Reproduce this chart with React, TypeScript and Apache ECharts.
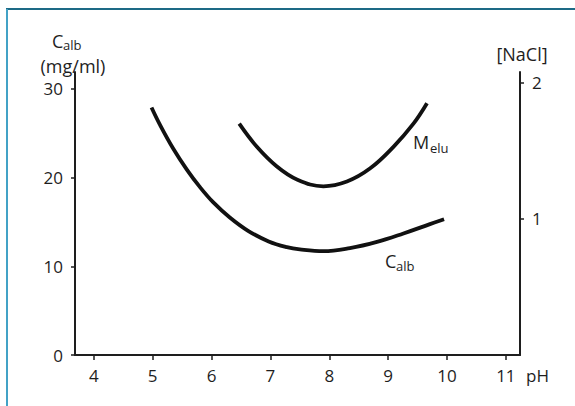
import React, { useEffect, useRef } from "react";
import * as echarts from "echarts";

const phTicks = [4, 5, 6, 7, 8, 9, 10, 11];
const calbTicks = [0, 10, 20, 30];
const naclTicks = [1, 2];

const calbPH = [4.98, 5.12, 5.35, 5.58, 5.8, 6.03, 6.31, 6.62, 6.97, 7.28, 7.5, 7.9, 8.35, 8.81, 9.26, 9.71, 9.95];
const calbValues = [27.9, 26.0, 23.25, 20.9, 18.95, 17.2, 15.5, 14.0, 12.8, 12.15, 11.9, 11.7, 12.05, 12.75, 13.7, 14.75, 15.3];

const meluPH = [6.47, 6.77, 7.11, 7.45, 7.9, 8.3, 8.69, 9.09, 9.43, 9.66];
const meluValues = [1.7, 1.53, 1.385, 1.29, 1.24, 1.275, 1.37, 1.53, 1.7, 1.85];

const FONT = "'Open Sans', 'Noto Sans', sans-serif";
const INK = "#1e1e1e";

function txt(text: string, x: number, y: number, size: number, align = "left") {
  return {
    type: "text",
    x,
    y,
    silent: true,
    style: {
      text,
      fontSize: size,
      fontFamily: FONT,
      fill: INK,
      align,
      verticalAlign: "middle",
    },
  };
}

export default function App() {
  const ref = useRef<HTMLDivElement>(null);
  useEffect(() => {
    if (!ref.current) return;
    const chart = echarts.init(ref.current, null, { renderer: "svg" });
    const axisLine = { show: true, lineStyle: { color: INK, width: 2 } };
    const labelStyle = { color: INK, fontSize: 17, fontFamily: FONT };
    chart.setOption({
      animation: false,
      backgroundColor: "#ffffff",
      grid: { left: 75, right: 55, top: 72, bottom: 51, containLabel: false },
      xAxis: {
        type: "value",
        min: 3.68,
        max: 11.24,
        axisLine: { ...axisLine, onZero: false },
        axisTick: { show: true, inside: false, length: 5, lineStyle: { color: INK, width: 1.5 }, customValues: phTicks },
        axisLabel: { ...labelStyle, margin: 12, customValues: phTicks },
        splitLine: { show: false },
        name: "pH",
        nameLocation: "end",
        nameGap: 6,
        nameTextStyle: { ...labelStyle, verticalAlign: "top", padding: [12, 0, 0, 0] },
      },
      yAxis: [
        {
          type: "value",
          position: "left",
          min: 0,
          max: 31.9,
          axisLine,
          axisTick: { show: true, inside: false, length: 4, lineStyle: { color: INK, width: 1.5 }, customValues: calbTicks },
          axisLabel: { ...labelStyle, margin: 12, customValues: calbTicks },
          splitLine: { show: false },
        },
        {
          type: "value",
          position: "right",
          min: 0,
          max: 2.08,
          axisLine,
          axisTick: { show: true, inside: false, length: 4, lineStyle: { color: INK, width: 1.5 }, customValues: naclTicks },
          axisLabel: { ...labelStyle, margin: 12, customValues: naclTicks },
          splitLine: { show: false },
        },
      ],
      series: [
        {
          name: "Calb",
          type: "line",
          yAxisIndex: 0,
          smooth: 0.4,
          showSymbol: false,
          lineStyle: { color: "#111", width: 3.8, cap: "butt" },
          data: calbPH.map((p, i) => [p, calbValues[i]]),
        },
        {
          name: "Melu",
          type: "line",
          yAxisIndex: 1,
          smooth: 0.4,
          showSymbol: false,
          lineStyle: { color: "#111", width: 3.8, cap: "butt" },
          data: meluPH.map((p, i) => [p, meluValues[i]]),
        },
      ],
      graphic: [
        { type: "line", silent: true, shape: { x1: 6, y1: 9, x2: 575, y2: 9 }, style: { stroke: "#1d6a86", lineWidth: 2 } },
        { type: "line", silent: true, shape: { x1: 7, y1: 9, x2: 7, y2: 406 }, style: { stroke: "#43a2c6", lineWidth: 2 } },
        txt("C", 52, 41, 18),
        txt("alb", 63, 45, 13),
        txt("(mg/ml)", 73, 65.5, 18, "center"),
        txt("[NaCl]", 522, 54, 18, "center"),
        txt("M", 413, 141.5, 18),
        txt("elu", 430, 148, 13),
        txt("C", 385, 260.5, 18),
        txt("alb", 396, 265.5, 13),
      ],
    });
    return () => chart.dispose();
  }, []);
  return (
    <div
      ref={ref}
      style={{ position: "fixed", left: 0, top: 0, width: 575, height: 406, background: "#fff" }}
    />
  );
}
